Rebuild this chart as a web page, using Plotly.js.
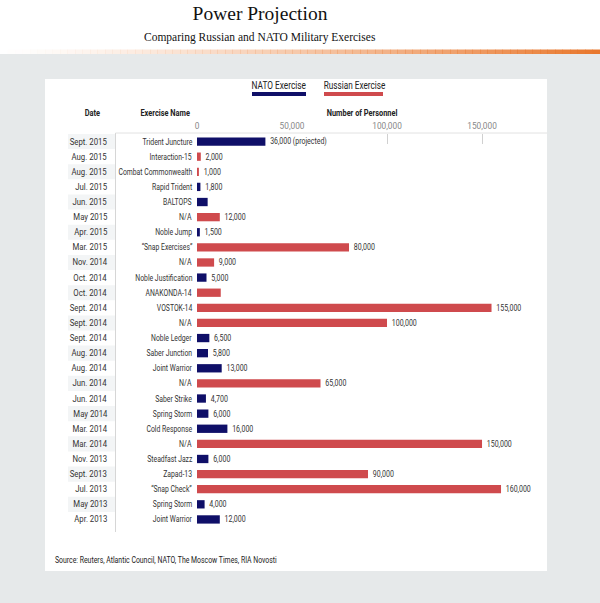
<!DOCTYPE html>
<html>
<head>
<meta charset="utf-8">
<script src="https://cdn.plot.ly/plotly-3.0.1.min.js"></script>
<style>html,body{margin:0;padding:0;background:#fff;}#chart{width:600px;height:603px;}</style>
</head>
<body>
<div id="chart"></div>
<script>
// ---- data ----
const dates = ["Sept. 2015","Aug. 2015","Aug. 2015","Jul. 2015","Jun. 2015","May 2015","Apr. 2015","Mar. 2015","Nov. 2014","Oct. 2014","Oct. 2014","Sept. 2014","Sept. 2014","Sept. 2014","Aug. 2014","Aug. 2014","Jun. 2014","Jun. 2014","May 2014","Mar. 2014","Mar. 2014","Nov. 2013","Sept. 2013","Jul. 2013","May 2013","Apr. 2013"];
const names = ["Trident Juncture","Interaction-15","Combat Commonwealth","Rapid Trident","BALTOPS","N/A","Noble Jump","\u201cSnap Exercises\u201d","N/A","Noble Justification","ANAKONDA-14","VOSTOK-14","N/A","Noble Ledger","Saber Junction","Joint Warrior","N/A","Saber Strike","Spring Storm","Cold Response","N/A","Steadfast Jazz","Zapad-13","\u201cSnap Check\u201d","Spring Storm","Joint Warrior"];
const personnel = [36000,2000,1000,1800,5600,12000,1500,80000,9000,5000,12500,155000,100000,6500,5800,13000,65000,4700,6000,16000,150000,6000,90000,160000,4000,12000];
const side = ["NATO","Russian","Russian","NATO","NATO","Russian","NATO","Russian","Russian","NATO","Russian","Russian","Russian","NATO","NATO","NATO","Russian","NATO","NATO","NATO","Russian","NATO","Russian","Russian","NATO","NATO"];
const labels = ["36,000 (projected)","2,000","1,000","1,800","","12,000","1,500","80,000","9,000","5,000","","155,000","100,000","6,500","5,800","13,000","65,000","4,700","6,000","16,000","150,000","6,000","90,000","160,000","4,000","12,000"];
const tickVals = [0,50000,100000,150000];
const tickText = ["0","50,000","100,000","150,000"];
const seriesNames = ["NATO","Russian"];
const legendText = ["NATO Exercise","Russian Exercise"];

// ---- styling ----
const COLORS = {NATO:"#0f0f68", Russian:"#cf4a4d"};
const FONT = "Roboto, 'Liberation Sans', sans-serif";
const SERIF = "'Liberation Serif', 'Times New Roman', serif";
const L = 197, W = 350, T = 134, H = 393;
const X = px => (px - L) / W;
const Y = py => (T + H - py) / H;

const traces = seriesNames.map(s => {
  const idx = personnel.map((v,i)=>i).filter(i => side[i] === s);
  return {
    type: "bar", orientation: "h", name: s,
    x: idx.map(i => personnel[i]),
    y: idx,
    text: idx.map(i => labels[i] ? "\u00a0" + labels[i] : ""),
    textposition: "outside",
    constraintext: "none",
    cliponaxis: false,
    textfont: {family: FONT, size: 8.5, color: "#333"},
    marker: {color: COLORS[s]},
    width: 0.55,
    hoverinfo: "skip",
    showlegend: false
  };
});
// invisible trace carrying the extra tick-mark axis
traces.push({type:"scatter", x:[0], y:[0], xaxis:"x2", mode:"markers", marker:{opacity:0}, showlegend:false, hoverinfo:"skip"});

const shapes = [];
// orange gradient rule
const n = 80;
for (let i = 0; i < n; i++) {
  const a = Math.pow((i + 0.5) / n, 1.3);
  shapes.push({type:"rect", xref:"paper", yref:"paper", x0:X(i*600/n), x1:X((i+1)*600/n+0.5), y0:Y(54), y1:Y(49.5),
    line:{width:0}, fillcolor:`rgba(232,119,44,${a.toFixed(3)})`, layer:"below"});
}
// gray page background
shapes.push({type:"rect", xref:"paper", yref:"paper", x0:X(0), x1:X(600), y0:Y(603), y1:Y(54), line:{width:0}, fillcolor:"#e6e9ea", layer:"below"});
// white panel
shapes.push({type:"rect", xref:"paper", yref:"paper", x0:X(45), x1:X(547), y0:Y(571), y1:Y(79), line:{width:0}, fillcolor:"#ffffff", layer:"below"});
// alternating date bands
dates.forEach((d,i) => {
  if (i % 2 === 0) shapes.push({type:"rect", xref:"paper", yref:"y", x0:X(68), x1:X(115), y0:i-0.5, y1:i+0.5, line:{width:0}, fillcolor:"#f3f5f6", layer:"below"});
});
// vertical separator and top rule
shapes.push({type:"line", xref:"paper", yref:"paper", x0:X(115.5), x1:X(115.5), y0:Y(532), y1:Y(133), line:{color:"#d6d6d6", width:1}});
shapes.push({type:"line", xref:"paper", yref:"paper", x0:X(115.5), x1:X(547), y0:Y(133), y1:Y(133), line:{color:"#e2e2e2", width:1}});
// legend swatches
shapes.push({type:"rect", xref:"paper", yref:"paper", x0:X(252), x1:X(306), y0:Y(96), y1:Y(92), line:{width:0}, fillcolor:COLORS.NATO});
shapes.push({type:"rect", xref:"paper", yref:"paper", x0:X(324), x1:X(383), y0:Y(96), y1:Y(92), line:{width:0}, fillcolor:COLORS.Russian});

// annotations + per-annotation condensing (k = width factor, side = edge kept fixed)
const annotations = [], squeeze = [];
const addAnn = (a, k, keep) => { annotations.push(Object.assign({showarrow:false}, a)); squeeze.push({k, keep}); };
dates.forEach((d,i) => addAnn({xref:"paper", yref:"y", x:X(108.5), y:i, text:d, xanchor:"right", yanchor:"middle", font:{family:FONT, size:8.5, color:"#333"}}, 0.91, "right"));
names.forEach((nm,i) => addAnn({xref:"paper", yref:"y", x:X(194), y:i, text:nm, xanchor:"right", yanchor:"middle", font:{family:FONT, size:8.5, color:"#333"}}, 0.8, "right"));
const hdr = (t, px) => addAnn({xref:"paper", yref:"paper", x:X(px), y:Y(113), text:t, xanchor:"center", yanchor:"middle", font:{family:FONT, size:9, color:"#222", weight:700}}, 0.82, "center");
hdr("Date", 92); hdr("Exercise Name", 165); hdr("Number of Personnel", 362);
addAnn({xref:"paper", yref:"paper", x:X(279), y:Y(85), text:legendText[0], xanchor:"center", yanchor:"middle", font:{family:FONT, size:10, color:"#222"}}, 0.83, "center");
addAnn({xref:"paper", yref:"paper", x:X(354), y:Y(85), text:legendText[1], xanchor:"center", yanchor:"middle", font:{family:FONT, size:10, color:"#222"}}, 0.82, "center");
addAnn({xref:"paper", yref:"paper", x:X(53), y:Y(560), text:"Source: Reuters, Atlantic Council, NATO, The Moscow Times, RIA Novosti", xanchor:"left", yanchor:"middle", font:{family:FONT, size:8.5, color:"#222"}}, 0.81, "left");
addAnn({xref:"paper", yref:"paper", x:X(260), y:Y(37), text:"Comparing Russian and NATO Military Exercises", xanchor:"center", yanchor:"middle", font:{family:SERIF, size:11.5, color:"#111"}}, 1, "center");

const range = [0, 184200];
const layout = {
  width: 600, height: 603,
  margin: {l: L, r: 600 - L - W, t: T, b: 603 - T - H, pad: 0},
  paper_bgcolor: "#ffffff", plot_bgcolor: "rgba(0,0,0,0)",
  title: {text: "Power Projection", x: 260/600, xanchor: "center", xref: "container", y: 1 - 13/603, yanchor: "middle", yref: "container",
          font: {family: SERIF, size: 19.5, color: "#111"}},
  barmode: "overlay",
  xaxis: {range: range, side: "top", tickvals: tickVals, ticktext: tickText, ticks: "", showgrid: false, zeroline: false,
          showline: false, tickfont: {family: FONT, size: 9, color: "#888"}, fixedrange: true, ticklabelstandoff: 2},
  xaxis2: {range: range, overlaying: "x", side: "top", tickvals: tickVals.slice(2), ticks: "inside", ticklen: 10, tickcolor: "#d0d0d0",
           showticklabels: false, showgrid: false, zeroline: false, showline: false},
  yaxis: {range: [dates.length - 0.5, -0.5], showticklabels: false, showgrid: false, zeroline: false, showline: false, ticks: ""},
  shapes: shapes,
  annotations: annotations,
  showlegend: false
};

// narrow the glyphs of a text element, keeping one of its edges in place
function condense(el, k, keep) {
  if (!el || k >= 1) return;
  const b = el.getBBox();
  if (!b.width) return;
  let x, anchor;
  if (keep === "left") { x = b.x; anchor = "start"; }
  else if (keep === "right") { x = b.x + b.width; anchor = "end"; }
  else { x = b.x + b.width / 2; anchor = "middle"; }
  el.setAttribute("text-anchor", anchor);
  el.setAttribute("x", x);
  el.querySelectorAll("tspan").forEach(t => t.removeAttribute("x"));
  el.setAttribute("textLength", (b.width * k).toFixed(2));
  el.setAttribute("lengthAdjust", "spacingAndGlyphs");
}

Plotly.newPlot("chart", traces, layout, {displayModeBar: false, staticPlot: true}).then(gd => {
  gd.querySelectorAll("g.annotation").forEach(g => {
    const i = +g.getAttribute("data-index");
    const s = squeeze[i];
    if (s) condense(g.querySelector("text.annotation-text"), s.k, s.keep);
  });
  gd.querySelectorAll("text.bartext").forEach(t => condense(t, 0.82, "left"));
  gd.querySelectorAll("g.xtick text").forEach(t => condense(t, 0.92, "center"));
});
</script>
</body>
</html>
